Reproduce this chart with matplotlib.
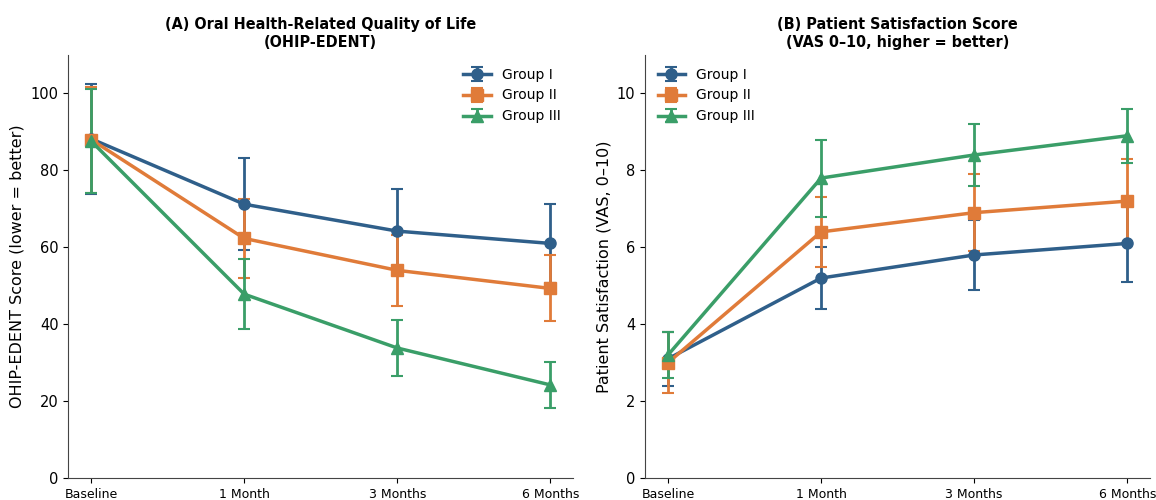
import matplotlib
matplotlib.use('Agg')
import matplotlib.pyplot as plt
import numpy as np

# Data
timepoints = ['Baseline', '1 Month', '3 Months', '6 Months']
groups = ['Group I', 'Group II', 'Group III']

ohip_mean = {
    'Group I': [88.2, 71.2, 64.2, 61.0],
    'Group II': [88.0, 62.3, 54.0, 49.3],
    'Group III': [87.6, 47.8, 33.8, 24.2],
}
ohip_sd = {
    'Group I': [14.3, 12.0, 11.0, 10.2],
    'Group II': [13.8, 10.3, 9.2, 8.6],
    'Group III': [13.6, 9.1, 7.4, 6.0],
}

vas_mean = {
    'Group I': [3.1, 5.2, 5.8, 6.1],
    'Group II': [3.0, 6.4, 6.9, 7.2],
    'Group III': [3.2, 7.8, 8.4, 8.9],
}
vas_sd = {
    'Group I': [0.7, 0.8, 0.9, 1.0],
    'Group II': [0.8, 0.9, 1.0, 1.1],
    'Group III': [0.6, 1.0, 0.8, 0.7],
}

colors = {'Group I': '#2f5f8a', 'Group II': '#e07b39', 'Group III': '#3a9e68'}
markers = {'Group I': 'o', 'Group II': 's', 'Group III': '^'}

x = np.arange(len(timepoints))

fig = plt.figure(figsize=(11.56, 5.0), dpi=100)
ax1 = fig.add_axes([0.059, 0.044, 0.437, 0.846])
ax2 = fig.add_axes([0.558, 0.044, 0.437, 0.846])


def draw(ax, means, sds):
    for g in groups:
        ax.errorbar(x, means[g], yerr=sds[g], color=colors[g], marker=markers[g],
                    markersize=8, linewidth=2.5, capsize=4, elinewidth=2,
                    capthick=1.5, label=g)
    ax.set_xticks(x)
    ax.set_xticklabels(timepoints, fontsize=9)
    ax.tick_params(axis='y', labelsize=10.5)
    ax.spines['top'].set_visible(False)
    ax.spines['right'].set_visible(False)
    for s in ['left', 'bottom']:
        ax.spines[s].set_color('#444444')


title_kw = dict(fontsize=11.5, fontweight='bold', fontstretch='condensed')

draw(ax1, ohip_mean, ohip_sd)
ax1.set_ylim(0, 110)
ax1.set_yticks([0, 20, 40, 60, 80, 100])
ax1.set_ylabel('OHIP-EDENT Score (lower = better)', fontsize=11.5)
ax1.set_title('(A) Oral Health-Related Quality of Life\n(OHIP-EDENT)', **title_kw)
ax1.legend(loc='upper right', frameon=False, fontsize=10)

draw(ax2, vas_mean, vas_sd)
ax2.set_ylim(0, 11)
ax2.set_yticks([0, 2, 4, 6, 8, 10])
ax2.set_ylabel('Patient Satisfaction (VAS, 0\u201310)', fontsize=11.5)
ax2.set_title('(B) Patient Satisfaction Score\n(VAS 0\u201310, higher = better)', **title_kw)
ax2.legend(loc='upper left', frameon=False, fontsize=10)

plt.savefig('out.png', dpi=100)
plt.close()
